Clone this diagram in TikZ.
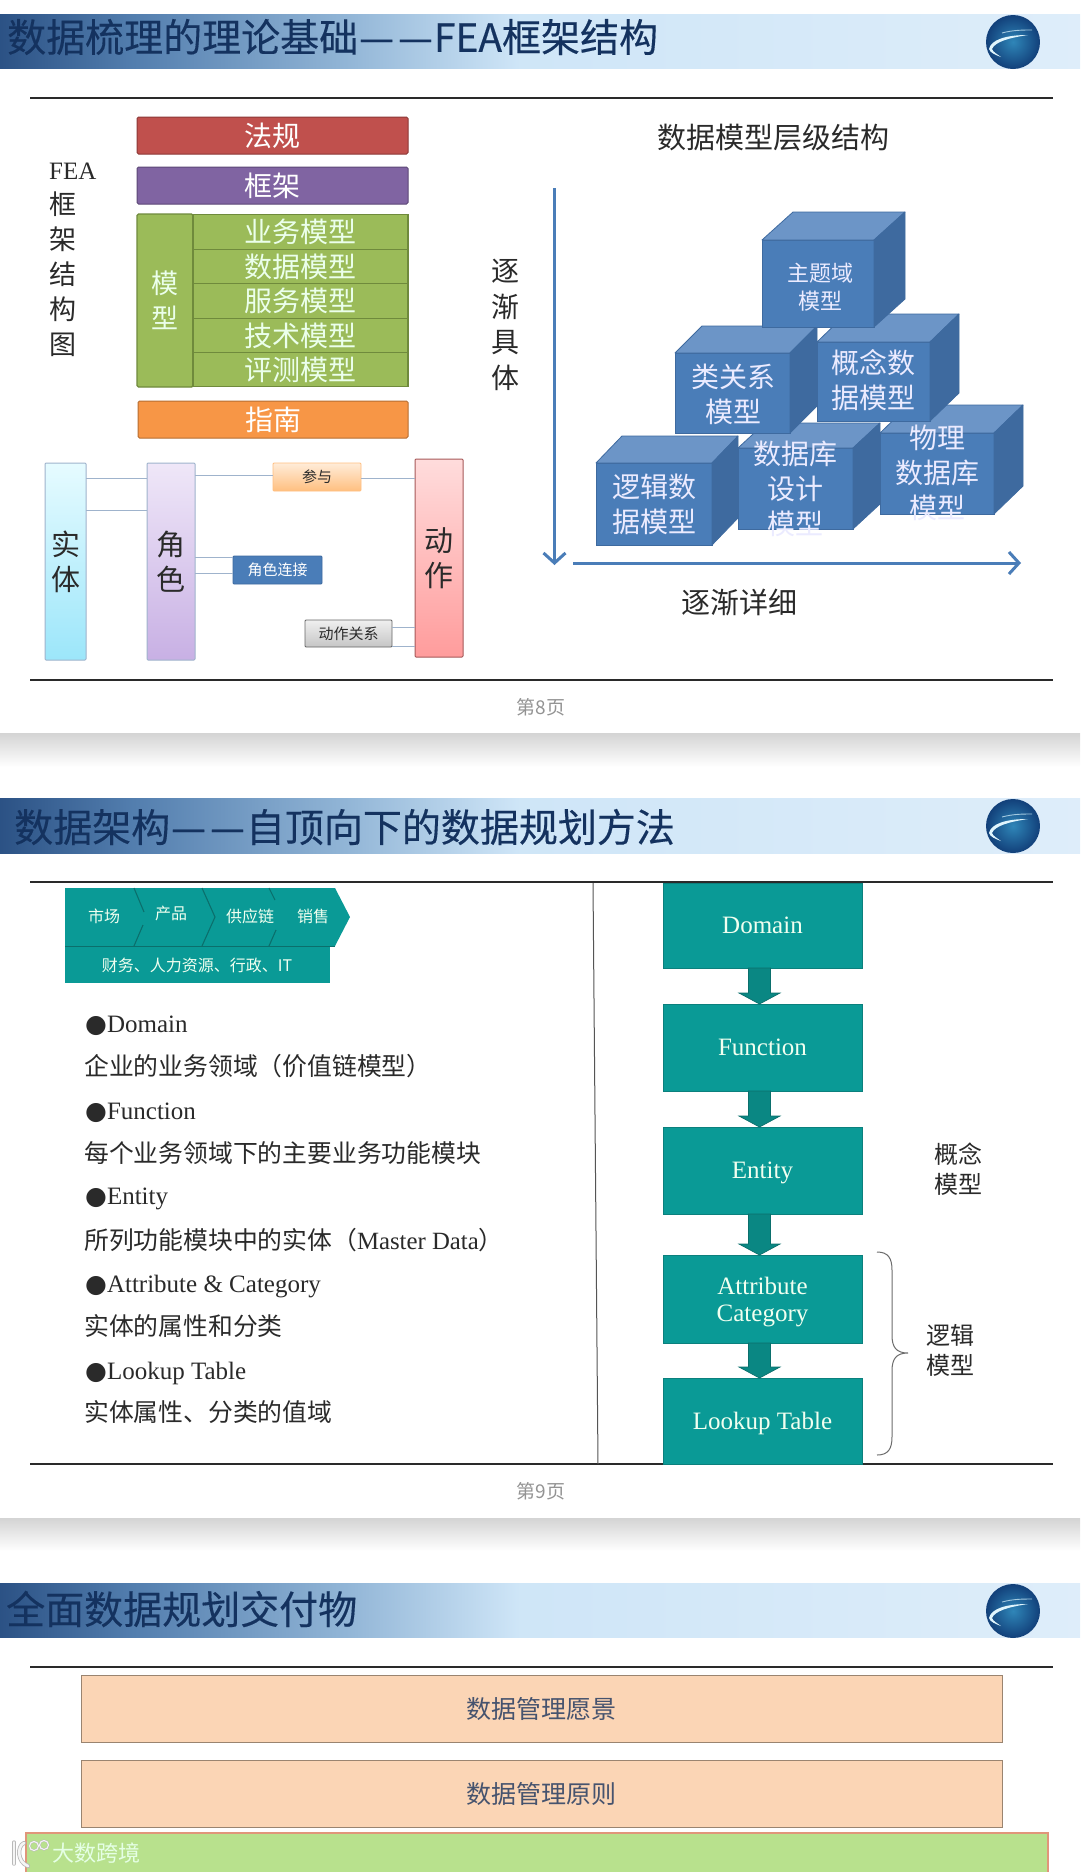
\documentclass[tikz,border=0pt]{standalone}
\usepackage{fontspec}
\setmainfont{Noto Sans CJK SC}
\newfontfamily\latf{Liberation Serif}
\newfontfamily\symf{DejaVu Sans}
\newfontfamily\ttlf[FakeBold=0.3]{Noto Sans CJK SC}
\usetikzlibrary{calc,arrows.meta}
\definecolor{teal1}{HTML}{0A9A96}
\definecolor{teal2}{HTML}{0B6F6C}
\definecolor{title}{HTML}{14325F}
\definecolor{cubef}{HTML}{4A7DB8}
\definecolor{cubet}{HTML}{6C95C7}
\definecolor{cubes}{HTML}{3E6A9F}
\definecolor{grn}{HTML}{9BBB59}
\definecolor{grnd}{HTML}{6F8A3C}
\definecolor{ink}{HTML}{2A2A2A}
\definecolor{conn}{HTML}{9FB3CC}
\definecolor{logoin}{HTML}{2F86B8}
\definecolor{logoout}{HTML}{12407A}
\definecolor{lawred}{HTML}{C0504D}
\definecolor{lawdk}{HTML}{8C3836}
\definecolor{frpur}{HTML}{8064A2}
\definecolor{frdk}{HTML}{5C4776}
\definecolor{gdor}{HTML}{F79646}
\definecolor{gddk}{HTML}{B66D31}
\definecolor{peachf}{HTML}{FBD5B5}
\definecolor{peachd}{HTML}{9A8470}
\definecolor{peacht}{HTML}{46536E}
\definecolor{lgreen}{HTML}{B8E18D}
\definecolor{lgreend}{HTML}{E0967A}
\definecolor{enttop}{HTML}{E6FBFF}
\definecolor{entbot}{HTML}{9CE6FA}
\definecolor{roletop}{HTML}{EFE7F8}
\definecolor{rolebot}{HTML}{C8B0E4}
\definecolor{acttop}{HTML}{FFDCDC}
\definecolor{actbot}{HTML}{FF9C9C}
\newcommand\fs[2]{\fontsize{#1}{#2}\selectfont}
\newcommand\ddash{\hspace{1pt}—\hspace{4pt}—\hspace{1pt}}
\pgfdeclarehorizontalshading{hdr}{100bp}{rgb(0bp)=(0.17,0.32,0.52);rgb(25bp)=(0.17,0.32,0.52);rgb(31bp)=(0.32,0.49,0.68);rgb(41bp)=(0.57,0.71,0.84);rgb(49bp)=(0.81,0.90,0.97);rgb(75bp)=(0.87,0.93,0.98);rgb(100bp)=(0.87,0.93,0.98)}
\tikzset{
  hdrbar/.style={shading=hdr,draw=none},
  ttl/.style={anchor=west,text=title,inner sep=0,font=\ttlf\fs{39}{44}},
  rulel/.style={line width=2.4pt,color=ink},
  foot/.style={text=gray!85,inner sep=0,font=\fs{19}{22}},
  band/.style={top color=black!17,bottom color=white,draw=none},
  logoball/.style={circle,minimum size=54pt,inner sep=0,inner color=logoin,outer color=logoout},
  fbar/.style={rounded corners=1.5pt,line width=1pt,inner sep=0,outer sep=0,text=white,font=\fs{28}{34}},
  modelrow/.style={draw=grnd,fill=grn,line width=1.4pt,inner sep=0,outer sep=0,text=green!8!white,font=\fs{28}{34}},
  lab/.style={text=ink,inner sep=0,align=center,font=\fs{27}{35}},
  colbox/.style={rounded corners=1pt,line width=1pt,inner sep=0,outer sep=0,text=ink,align=center,font=\fs{29}{35}},
  smallbox/.style={rounded corners=1pt,line width=.8pt,inner sep=0,outer sep=0,font=\fs{15}{17}},
  wire/.style={color=conn,line width=1pt},
  axisl/.style={color=cubef,line width=3pt,-{Straight Barb[length=10pt,width=22pt,line width=3pt]}},
  cubefront/.style={fill=cubef,draw=cubes,line width=.8pt,inner sep=0,outer sep=0},
  cubetop/.style={fill=cubet,draw=cubes,line width=.8pt,line join=round},
  cubeside/.style={fill=cubes,draw=cubes,line width=.8pt,line join=round},
  cubetext/.style={text=white!92!blue,inner sep=0,align=center,font=\fs{28}{35}},
  chainf/.style={fill=teal1,draw=none},
  chainl/.style={draw=teal2,line width=1.1pt},
  chaint/.style={text=green!6!white,inner sep=0,font=\fs{16}{18}},
  listitem/.style={anchor=west,text=ink,inner sep=0,font=\fs{24.8}{28}},
  latitem/.style={anchor=west,text=ink,inner sep=0,font=\fs{25}{28}},
  tealbox/.style={fill=teal1,draw=teal2!60!teal1,line width=.6pt,minimum width=199pt,inner sep=0,outer sep=0,text=green!6!white,align=center,text depth=0pt,font=\latf\fs{25}{27}},
  blockarrow/.style={fill=teal2!45!teal1,draw=teal2,line width=.7pt,line join=miter},
  peach/.style={fill=peachf,draw=peachd,line width=1pt,minimum width=921pt,minimum height=67pt,inner sep=0,outer sep=0,text=peacht,font=\fs{25}{30}},
  wmline/.style={color=white!92!gray,line cap=round},
  wmshade/.style={color=gray!55,line cap=round},
}
\newcommand\barrow[2]{\draw[blockarrow] ($(#1.south)+(-14,0)$) -- ($(#2.north)+(-14,-11)$) -- ($(#2.north)+(-23.5,-11)$) -- ($(#2.north)+(-3,0)$) -- ($(#2.north)+(17.5,-11)$) -- ($(#2.north)+(8,-11)$) -- ($(#1.south)+(8,0)$) -- cycle;}
\newcommand\cube[7]{%
  \node[cubefront,minimum width=#4pt,minimum height=#5pt] (#1) at (#2,#3) {};
  \draw[cubetop] (#1.north west) -- ($(#1.north west)+(#6,-#7)$) -- ($(#1.north east)+(#6,-#7)$) -- (#1.north east) -- cycle;
  \draw[cubeside] (#1.north east) -- ($(#1.north east)+(#6,-#7)$) -- ($(#1.south east)+(#6,-#7)$) -- (#1.south east) -- cycle;
}
\newcommand\logo[2]{%
  \node[logoball] (#1) at (1013,#2) {};
  \begin{scope}[shift={(1013,#2)}]
    \fill[white!88!cyan] (-24,7) .. controls (-22,-2) and (-8,-7) .. (15,-7) .. controls (-5,-4) and (-18,0) .. (-21,7) .. controls (-20,10) and (-16,12) .. (-12,15) .. controls (-17,13) and (-23,11) .. (-24,7) -- cycle;
    \draw[white!55!logoin,line width=.9pt] (-11,-9) .. controls (0,-12) and (10,-12) .. (19,-12);
  \end{scope}
}
\begin{document}
\begin{tikzpicture}[x=1pt,y=-1pt]
\useasboundingbox (0,0) rectangle (1080,1872);
\fill[white] (0,0) rectangle (1080,1872);
% page shadows
\fill[band] (0,733) rectangle (1080,767);
\fill[band] (0,1518) rectangle (1080,1551);
% headers
\fill[hdrbar] (0,14) rectangle (1080,68);
\fill[hdrbar] (0,798) rectangle (1080,853);
\fill[hdrbar] (0,1583) rectangle (1080,1637);
\node[ttl] (t1) at (7,37) {数据梳理的理论基础\ddash FEA框架结构};
\node[ttl] (t2) at (14,827) {数据架构\ddash 自顶向下的数据规划方法};
\node[ttl] (t3) at (6,1609) {全面数据规划交付物};
\logo{lg1}{42}
\logo{lg2}{826}
\logo{lg3}{1611}
% rules
\draw[rulel] (30,98) -- (1053,98);
\draw[rulel] (30,680) -- (1053,680);
\draw[rulel] (30,882) -- (1053,882);
\draw[rulel] (30,1464) -- (1053,1464);
\draw[rulel] (30,1667) -- (1053,1667);
\node[foot] (p8) at (541,707) {第8页};
\node[foot] (p9) at (541,1491) {第9页};
% FEA stack
\node[lab,anchor=north west,align=left] (fealabel) at (49,162.5) {{\latf\fs{25}{30}FEA}\\框\\架\\结\\构\\图};
\node[fbar,fill=lawred,draw=lawdk,minimum width=271pt,minimum height=37pt] (law) at (272.5,135.5) {法规};
\node[fbar,fill=frpur,draw=frdk,minimum width=271pt,minimum height=37pt] (frame) at (272.5,185.5) {框架};
\node[modelrow,minimum width=56pt,minimum height=173pt,rounded corners=1.5pt,align=center,font=\fs{27}{35}] (mcol) at (165,300.5) {模\\型};
\node[modelrow,minimum width=215pt,minimum height=35pt] (m1) at (300.5,232) {业务模型};
\node[modelrow,minimum width=215pt,minimum height=34.5pt] (m2) at (300.5,266.5) {数据模型};
\node[modelrow,minimum width=215pt,minimum height=34.5pt] (m3) at (300.5,301) {服务模型};
\node[modelrow,minimum width=215pt,minimum height=34.5pt] (m4) at (300.5,335.5) {技术模型};
\node[modelrow,minimum width=215pt,minimum height=34.5pt] (m5) at (300.5,369.5) {评测模型};
\node[fbar,fill=gdor,draw=gddk,minimum width=270pt,minimum height=37pt] (guide) at (273,419.5) {指南};
% entity role action
\node[colbox,top color=enttop,bottom color=entbot,draw=conn,minimum width=41pt,minimum height=197pt] (ent) at (65.5,561.5) {实\\体};
\node[colbox,top color=roletop,bottom color=rolebot,draw=conn,minimum width=48pt,minimum height=197pt] (role) at (171,561.5) {角\\色};
\node[colbox,top color=acttop,bottom color=actbot,draw=red!30!gray,minimum width=48pt,minimum height=198pt] (act) at (439,558) {动\\作};
\node[smallbox,top color=orange!15!white,bottom color=orange!50!white,draw=orange!50!white,minimum width=88pt,minimum height=28pt,text=ink] (join) at (317,477) {参与};
\node[smallbox,fill=cubef,draw=cubes,minimum width=89pt,minimum height=28pt,text=white] (rlink) at (277.5,570) {角色连接};
\node[smallbox,top color=gray!12!white,bottom color=gray!45!white,draw=gray!80!black,minimum width=87pt,minimum height=27pt,text=ink] (alink) at (348.5,633.5) {动作关系};
\draw[wire] (ent.east |- 0,478) -- (role.west |- 0,478);
\draw[wire] (ent.east |- 0,510) -- (role.west |- 0,510);
\draw[wire] (role.east |- 0,475) -- (join.west |- 0,475);
\draw[wire] (join.east |- 0,478) -- (act.west |- 0,478);
\draw[wire] (role.east |- 0,557) -- (rlink.west |- 0,557);
\draw[wire] (role.east |- 0,573) -- (rlink.west |- 0,573);
\draw[wire] (alink.east |- 0,627) -- (act.west |- 0,627);
\draw[wire] (alink.east |- 0,646) -- (act.west |- 0,646);
% cube pyramid
\node[lab,font=\fs{29}{35}] (cubett) at (773,138) {数据模型层级结构};
\node[lab,font=\fs{28}{35.5}] (detail) at (505,325) {逐\\渐\\具\\体};
\node[lab,font=\fs{29}{35}] (finer) at (739,602) {逐渐详细};
\coordinate (va) at (554.5,188);
\coordinate (vb) at (554.5,565);
\coordinate (ha) at (573,563);
\coordinate (hb) at (1021,563);
\draw[axisl] (va) -- (vb);
\draw[axisl] (ha) -- (hb);
\cube{c6}{937}{473.5}{114}{81}{29}{28}
\node[cubetext] (c6t) at (937,473) {物理\\数据库\\模型};
\cube{c5}{795.5}{488.5}{115}{81}{27}{25}
\node[cubetext] (c5t) at (795,488.5) {数据库\\设计\\模型};
\cube{c4}{654}{504}{116}{82}{26}{27}
\node[cubetext] (c4t) at (654,504.5) {逻辑数\\据模型};
\cube{c3}{873.5}{381.5}{113}{79}{29}{28}
\node[cubetext] (c3t) at (873,380.5) {概念数\\据模型};
\cube{c2}{732.5}{393}{115}{80}{27}{27}
\node[cubetext] (c2t) at (733,394.5) {类关系\\模型};
\cube{c1}{818}{283.5}{112}{87}{31}{28}
\node[cubetext,font=\fs{22}{28}] (c1t) at (820,287) {主题域\\模型};
% value chain
\fill[chainf] (65,888) -- (335,888) -- (350,917) -- (335,946) -- (65,946) -- cycle;
\fill[chainf] (65,947) rectangle (330,983);
\draw[chainl] (65,946.5) -- (335,946.5);
\draw[chainl] (134,888) -- (144,912);
\draw[chainl] (143,925) -- (134,946);
\draw[chainl] (202,888) -- (215,917) -- (202,946);
\draw[chainl] (269,888) -- (275,900);
\draw[chainl] (276,930) -- (269,946);
\node[chaint] (v1) at (104,916) {市场};
\node[chaint] (v2) at (171,913) {产品};
\node[chaint] (v3) at (250,916) {供应链};
\node[chaint] (v4) at (313,916) {销售};
\node[chaint] (v5) at (197,965) {财务、人力资源、行政、IT};
% list
\node[latitem] (i1) at (85,1025.5) {{\symf ●}{\latf Domain}};
\node[listitem] (i2) at (84,1066) {企业的业务领域（价值链模型）};
\node[latitem] (i3) at (85,1112.5) {{\symf ●}{\latf Function}};
\node[listitem] (i4) at (84,1153) {每个业务领域下的主要业务功能模块};
\node[latitem] (i5) at (85,1199) {{\symf ●}{\latf Entity}};
\node[listitem] (i6) at (84,1240) {所列功能模块中的实体（{\latf Master Data}）};
\node[latitem] (i7) at (85,1286.5) {{\symf ●}{\latf Attribute \& Category}};
\node[listitem] (i8) at (84,1326) {实体的属性和分类};
\node[latitem] (i9) at (85,1373) {{\symf ●}{\latf Lookup Table}};
\node[listitem] (i10) at (84,1412) {实体属性、分类的值域};
% divider
\draw[color=ink!80,line width=1pt] (593,883) -- (598,1464);
% flow
\node[tealbox,minimum height=85pt,text height=16pt] (d) at (762.5,925.5) {Domain};
\node[tealbox,minimum height=87pt,text height=16pt] (f) at (762.5,1047.5) {Function};
\node[tealbox,minimum height=87pt,text height=16pt] (e) at (762.5,1170.5) {Entity};
\node[tealbox,minimum height=88pt] (a) at (762.5,1299) {Attribute\\Category};
\node[tealbox,minimum height=86pt,text height=16pt] (l) at (762.5,1421) {Lookup Table};
\barrow{d}{f}
\barrow{f}{e}
\barrow{e}{a}
\barrow{a}{l}
\node[lab,font=\fs{24}{30}] (cm) at (958,1169) {概念\\模型};
\node[lab,font=\fs{24}{30}] (lm) at (950,1350) {逻辑\\模型};
\draw[color=gray!85!black,line width=1pt] (877,1252) .. controls (888,1252) and (892,1258) .. (892,1270) -- (892,1335) .. controls (892,1347) and (896,1353) .. (908,1353) .. controls (896,1353) and (892,1359) .. (892,1371) -- (892,1437) .. controls (892,1449) and (888,1455) .. (877,1455);
% page 3
\node[peach] (vis) at (541.5,1708.5) {数据管理愿景};
\node[peach] (pri) at (541.5,1793.5) {数据管理原则};
\fill[lgreen] (26,1833) rectangle (1048,1872);
\draw[color=lgreend,line width=1.6pt] (26,1872) -- (26,1833) -- (1048,1833) -- (1048,1872);
% watermark
\draw[wmshade,line width=4.2pt] (24,1843) .. controls (17,1846) and (17,1862) .. (28,1866);
\draw[wmshade,line width=3.4pt] (14,1842) -- (14,1864);
\draw[wmline,line width=2.6pt] (24,1843) .. controls (17,1846) and (17,1862) .. (28,1866);
\draw[wmline,line width=2pt] (14,1842) -- (14,1864);
\draw[wmshade,line width=2pt] (34,1846) circle (4.5);
\draw[wmshade,line width=2pt] (44,1845) circle (4.5);
\draw[wmline,line width=1.1pt] (34,1846) circle (4.5);
\draw[wmline,line width=1.1pt] (44,1845) circle (4.5);
\node[text=white!90!green,anchor=west,inner sep=0,font=\fs{22}{26}] (wm) at (52,1853) {大数跨境};
\end{tikzpicture}
\end{document}
